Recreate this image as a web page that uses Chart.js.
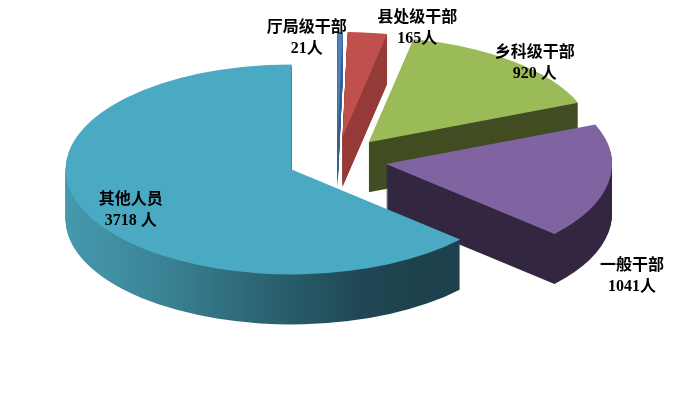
<!DOCTYPE html>
<html>
<head>
<meta charset="utf-8">
<script src="https://cdn.jsdelivr.net/npm/chart.js@4.4.1/dist/chart.umd.min.js"></script>
<style>
html, body { margin: 0; padding: 0; background: #fff; }
#wrap { width: 673px; height: 405px; }
</style>
</head>
<body>
<div id="wrap"><canvas id="pie" width="673" height="405"></canvas></div>
<script>
const categories = ['厅局级干部', '县处级干部', '乡科级干部', '一般干部', '其他人员'];
const values = [21, 165, 920, 1041, 3718];
const unitGap = ['', '', ' ', '', ' '];
const topColors = ['#4f81bd', '#c0504d', '#9bbb59', '#8064a2', '#4aaac4'];
const sideColors = ['#3a6190', '#963b39', '#434d23', '#332741', null];

// 立体饼图的视角参数
const view = { cx: 337, cy: 160, sx: 2.26, sy: 1.05, depth: 50, explode: 22 };
// 标签位置: [相对扇区中线的角度, 半径倍数]
const labelPlace = [[-7.2, 1.17], [9.5, 1.30], [3.9, 1.27], [30.4, 1.71], [-3.5, 1.03]];

const midAngle = arc => (arc.startAngle + arc.endAngle) / 2;

const pie3d = {
    id: 'pie3d',
    beforeDatasetsDraw(chart) {
        const ctx = chart.ctx;
        const arcs = chart.getDatasetMeta(0).data;
        const ox = arcs[0].x, oy = arcs[0].y, R = arcs[0].outerRadius;

        ctx.save();
        ctx.translate(view.cx, view.cy);
        ctx.scale(view.sx, view.sy);
        ctx.translate(-ox, -oy);

        const paint = (arc, color, dy) => {
            const saved = arc.options;
            const o = Object.create(saved);
            Object.defineProperty(o, 'backgroundColor', { value: color });
            arc.options = o;
            ctx.save();
            const m = midAngle(arc);
            ctx.translate(Math.cos(m) * view.explode, Math.sin(m) * view.explode + dy);
            arc.draw(ctx);
            ctx.restore();
            arc.options = saved;
        };

        // 大扇区侧面渐变
        const grad = ctx.createLinearGradient(ox - R * 1.2, 0, ox + R * 0.55, 0);
        grad.addColorStop(0, '#4ca3ba');
        grad.addColorStop(0.34, '#3b8597');
        grad.addColorStop(0.59, '#2d6777');
        grad.addColorStop(0.85, '#204854');
        grad.addColorStop(1, '#1d424e');

        const order = arcs.map((a, i) => i)
            .sort((a, b) => Math.sin(midAngle(arcs[a])) - Math.sin(midAngle(arcs[b])));
        order.forEach(i => {
            const col = sideColors[i] || grad;
            for (let d = view.depth; d > 0; d--) {
                paint(arcs[i], col, d / view.sy);
            }
        });
        arcs.forEach((a, i) => paint(a, topColors[i], 0));

        ctx.restore();
        return false;
    },
    afterDraw(chart) {
        const ctx = chart.ctx;
        const arcs = chart.getDatasetMeta(0).data;
        ctx.save();
        ctx.font = 'bold 16px "Liberation Serif", "Noto Sans CJK SC"';
        ctx.textAlign = 'center';
        ctx.textBaseline = 'middle';
        ctx.fillStyle = '#000';
        arcs.forEach((arc, i) => {
            const a = midAngle(arc) + labelPlace[i][0] * Math.PI / 180;
            const r = labelPlace[i][1] * arc.outerRadius;
            const x = view.cx + view.sx * Math.cos(a) * r;
            const y = view.cy + view.sy * Math.sin(a) * r;
            ctx.fillText(categories[i], x, y - 10.5);
            ctx.fillText(values[i] + unitGap[i] + '人', x, y + 10.5);
        });
        ctx.restore();
    }
};

new Chart(document.getElementById('pie').getContext('2d'), {
    type: 'pie',
    data: {
        labels: categories,
        datasets: [{
            data: values,
            backgroundColor: topColors,
            borderWidth: 0,
            radius: 100
        }]
    },
    options: {
        responsive: false,
        animation: false,
        layout: { padding: 0 },
        plugins: {
            legend: { display: false },
            tooltip: { enabled: false }
        }
    },
    plugins: [pie3d]
});
</script>
</body>
</html>
